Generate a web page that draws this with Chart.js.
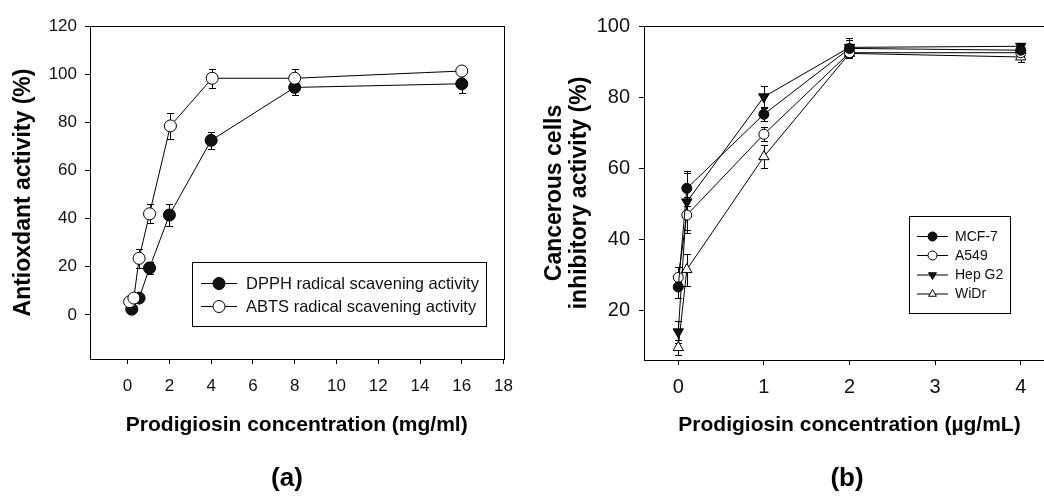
<!DOCTYPE html>
<html>
<head>
<meta charset="utf-8">
<script src="https://cdn.jsdelivr.net/npm/chart.js@4.4.1/dist/chart.umd.min.js"></script>
<style>
  html, body { margin: 0; padding: 0; background: #fff; overflow: hidden; }
  body { width: 1044px; height: 497px; position: relative; font-family: Arial, "Liberation Sans", sans-serif; }
  .panel { position: absolute; top: 0; height: 497px; }
  #panel-a { left: 0; width: 525px; }
  #panel-b { left: 520px; width: 560px; }
  .tag { position: absolute; top: 460px; width: 80px; margin-left: -40px; text-align: center; font-weight: bold; font-size: 26px; line-height: 34px; color: #000; }
</style>
</head>
<body>
<div class="panel" id="panel-a"><canvas id="chartA" width="525" height="497"></canvas></div>
<div class="panel" id="panel-b"><canvas id="chartB" width="560" height="497"></canvas></div>
<div class="tag" style="left:287px">(a)</div>
<div class="tag" style="left:847px">(b)</div>
<script>
// panel (a) - antioxidant activity vs concentration (mg/ml)
const dpphX = [0.2, 0.55, 1.05, 2, 4, 8, 16];
const dpphY = [2.4, 7, 19.5, 41.5, 72.5, 94.5, 96];
const dpphErr = [1, 1, 2.5, 4.5, 3.5, 3, 4];
const abtsX = [0.1, 0.3, 0.55, 1.05, 2.05, 4.05, 8, 16];
const abtsY = [5.5, 7, 23.5, 42, 78.5, 98.3, 98.3, 101.3];
const abtsErr = [0, 1, 4, 4, 5.5, 4, 4, 1.5];
const xTicksA = [0, 2, 4, 6, 8, 10, 12, 14, 16, 18];
const yTicksA = [0, 20, 40, 60, 80, 100, 120];

// panel (b) - cancer cell inhibition vs concentration (ug/mL)
const conc = [0, 0.1, 1, 2, 4];
const mcf7 = [26.7, 54.4, 75.2, 93.7, 93.2];
const mcf7Err = [3, 5, 2, 2.5, 1];
const a549 = [29.4, 46.9, 69.6, 92.5, 92.5];
const a549Err = [3, 5, 2, 1.5, 1];
const hepg2 = [14.1, 50.6, 80.1, 94, 94.3];
const hepg2Err = [3, 8, 3, 2.5, 1];
const widr = [9.7, 31.6, 63.3, 92.3, 91.3];
const widrErr = [2, 4.5, 3.3, 1, 1.5];
const xTicksB = [0, 1, 2, 3, 4];
const yTicksB = [20, 40, 60, 80, 100];

Chart.defaults.font.family = 'Arial, "Liberation Sans", sans-serif';
Chart.defaults.color = '#111';

function points(xs, ys) {
  return xs.map((x, i) => ({ x, y: ys[i] }));
}

function fixedTicks(values) {
  return (scale) => { scale.ticks = values.map((v) => ({ value: v })); };
}

// box round the plot area
const frame = {
  id: 'frame',
  beforeDatasetsDraw(chart) {
    const { ctx, chartArea: a } = chart;
    ctx.save();
    ctx.strokeStyle = '#000';
    ctx.lineWidth = 1;
    ctx.strokeRect(Math.round(a.left) + 0.5, Math.round(a.top) + 0.5,
      Math.round(a.right - a.left), Math.round(a.bottom - a.top));
    ctx.restore();
  },
};

const errorBars = {
  id: 'errorBars',
  beforeDatasetsDraw(chart) {
    const { ctx, scales: { x, y } } = chart;
    ctx.save();
    ctx.strokeStyle = '#000';
    ctx.lineWidth = 1;
    chart.data.datasets.forEach((ds) => {
      if (!ds.errors) return;
      ds.data.forEach((pt, i) => {
        const e = ds.errors[i];
        if (!e) return;
        const px = Math.round(x.getPixelForValue(pt.x)) + 0.5;
        const top = Math.round(y.getPixelForValue(pt.y + e)) + 0.5;
        const bot = Math.round(y.getPixelForValue(pt.y - e)) + 0.5;
        ctx.beginPath();
        ctx.moveTo(px, top);
        ctx.lineTo(px, bot);
        ctx.moveTo(px - 3.5, top);
        ctx.lineTo(px + 3.5, top);
        ctx.moveTo(px - 3.5, bot);
        ctx.lineTo(px + 3.5, bot);
        ctx.stroke();
      });
    });
    ctx.restore();
  },
};

// legend drawn inside the plot, sigmaplot style (line + marker + label)
const boxLegend = {
  id: 'boxLegend',
  afterDraw(chart, args, opts) {
    const { ctx } = chart;
    const [x1, y1, x2, y2] = opts.box;
    ctx.save();
    ctx.fillStyle = '#fff';
    ctx.fillRect(x1, y1, x2 - x1, y2 - y1);
    ctx.strokeStyle = '#000';
    ctx.lineWidth = 1;
    ctx.strokeRect(x1 + 0.5, y1 + 0.5, x2 - x1, y2 - y1);
    opts.order.forEach((idx, row) => {
      const ds = chart.data.datasets[idx];
      const cy = opts.rows[row];
      ctx.strokeStyle = '#000';
      ctx.beginPath();
      ctx.moveTo(opts.line[0], cy + 0.5);
      ctx.lineTo(opts.line[1], cy + 0.5);
      ctx.stroke();
      ctx.fillStyle = ds.pointBackgroundColor;
      Chart.helpers.drawPoint(ctx, {
        pointStyle: ds.pointStyle,
        radius: opts.radius,
        rotation: ds.pointRotation || 0,
        borderWidth: 1,
      }, (opts.line[0] + opts.line[1]) / 2, cy + 0.5);
      ctx.fillStyle = '#111';
      ctx.font = opts.font;
      ctx.textAlign = 'left';
      ctx.textBaseline = 'middle';
      ctx.fillText(ds.label, opts.textX, cy + 1);
    });
    ctx.restore();
  },
};

function series(label, data, errors, filled, style, radius, rotation, order) {
  return {
    label,
    data,
    errors,
    order,
    borderColor: '#000',
    borderWidth: 1,
    tension: 0,
    pointStyle: style,
    pointRotation: rotation,
    pointRadius: radius,
    pointBorderWidth: 1,
    pointBorderColor: '#000',
    pointBackgroundColor: filled ? '#111' : '#fff',
  };
}

function axis(opts) {
  return {
    type: 'linear',
    min: opts.min,
    max: opts.max,
    afterBuildTicks: fixedTicks(opts.ticks),
    afterFit: opts.fit,
    border: { display: false },
    grid: { drawOnChartArea: false, drawTicks: true, tickLength: 5, color: '#000' },
    ticks: { font: { size: opts.tickSize }, color: '#111', padding: opts.tickPad },
    title: {
      display: true,
      text: opts.title,
      color: '#000',
      font: { size: opts.titleSize, weight: 'bold', lineHeight: opts.titleLine || 1.2 },
      padding: opts.titlePad,
    },
  };
}

new Chart(document.getElementById('chartA'), {
  type: 'line',
  data: {
    datasets: [
      series('DPPH radical scavening activity', points(dpphX, dpphY), dpphErr, true, 'circle', 6, 0, 1),
      series('ABTS radical scavening activity', points(abtsX, abtsY), abtsErr, false, 'circle', 6, 0, 0),
    ],
  },
  options: {
    responsive: false,
    animation: false,
    devicePixelRatio: 1,
    layout: { padding: { left: 0, top: 26, right: 16, bottom: 0 } },
    plugins: {
      legend: { display: false },
      tooltip: { enabled: false },
      boxLegend: {
        box: [192, 262, 486, 326],
        rows: [283, 306],
        line: [201, 237],
        textX: 246,
        radius: 6,
        font: '16.5px Arial, "Liberation Sans", sans-serif',
        order: [0, 1],
      },
    },
    scales: {
      x: axis({
        min: -1.8, max: 18, ticks: xTicksA,
        fit: (s) => { s.height = 138; },
        tickSize: 17, tickPad: 12,
        title: 'Prodigiosin concentration (mg/ml)', titleSize: 21,
        titlePad: { top: 0, bottom: 59 },
      }),
      y: axis({
        min: -18.3, max: 120, ticks: yTicksA,
        fit: (s) => { s.width = 90; },
        tickSize: 17, tickPad: 8,
        title: 'Antioxdant activity (%)', titleSize: 23,
        titlePad: { top: 10, bottom: 0 },
      }),
    },
  },
  plugins: [frame, errorBars, boxLegend],
});

new Chart(document.getElementById('chartB'), {
  type: 'line',
  data: {
    datasets: [
      series('MCF-7', points(conc, mcf7), mcf7Err, true, 'circle', 5, 0, 0),
      series('A549', points(conc, a549), a549Err, false, 'circle', 5, 0, 1),
      series('Hep G2', points(conc, hepg2), hepg2Err, true, 'triangle', 6, 180, 2),
      series('WiDr', points(conc, widr), widrErr, false, 'triangle', 6, 0, 3),
    ],
  },
  options: {
    responsive: false,
    animation: false,
    devicePixelRatio: 1,
    layout: { padding: { left: 0, top: 26, right: 25, bottom: 0 } },
    plugins: {
      legend: { display: false },
      tooltip: { enabled: false },
      boxLegend: {
        box: [389, 216, 490, 313],
        rows: [236, 255, 274.5, 293.5],
        line: [397, 428],
        textX: 435,
        radius: 4.5,
        font: '14px Arial, "Liberation Sans", sans-serif',
        order: [0, 1, 2, 3],
      },
    },
    scales: {
      x: axis({
        min: -0.4, max: 4.4, ticks: xTicksB,
        fit: (s) => { s.height = 137; },
        tickSize: 20, tickPad: 10,
        title: 'Prodigiosin concentration (\u00b5g/mL)', titleSize: 21,
        titlePad: { top: 0, bottom: 59 },
      }),
      y: axis({
        min: 6.2, max: 100, ticks: yTicksB,
        fit: (s) => { s.width = 124; },
        tickSize: 20, tickPad: 9,
        title: ['Cancerous cells', 'inhibitory activity (%)'], titleSize: 23, titleLine: 1.1,
        titlePad: { top: 22, bottom: 0 },
      }),
    },
  },
  plugins: [frame, errorBars, boxLegend],
});
</script>
</body>
</html>
